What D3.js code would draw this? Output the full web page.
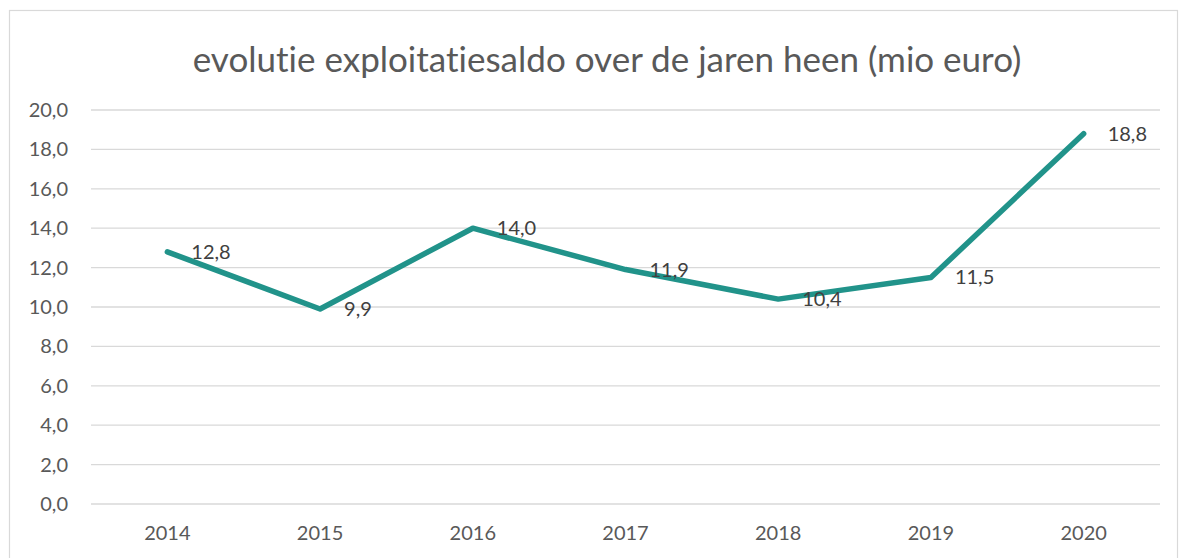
<!DOCTYPE html>
<html><head><meta charset="utf-8">
<script src="https://cdn.jsdelivr.net/npm/d3@7"></script>
<style>html,body{margin:0;padding:0;background:#fff;}svg{display:block;}text{font-variant-ligatures:none;font-feature-settings:"liga" 0,"clig" 0;}</style>
</head><body>
<script>
const title = "evolutie exploitatiesaldo over de jaren heen (mio euro)";
const years = ["2014","2015","2016","2017","2018","2019","2020"];
const values = [12.8, 9.9, 14.0, 11.9, 10.4, 11.5, 18.8];
const yTicks = [0,2,4,6,8,10,12,14,16,18,20];

(function(){
const W = 1180, H = 558;
const font = "Lato, 'Open Sans', sans-serif";
const svg = d3.select("body").append("svg").attr("width", W).attr("height", H);

// chart border
svg.append("rect").attr("x", 9.5).attr("y", 10.5).attr("width", 1168).attr("height", 600)
  .attr("fill", "#fff").attr("stroke", "#d9d9d9").attr("stroke-width", 1.2);

const pLeft = 91, pRight = 1160, pTop = 110, pBottom = 504;
const x = d3.scaleBand().domain(years).range([pLeft, pRight]);
const y = d3.scaleLinear().domain([0, 20]).range([pBottom, pTop]);
const fmt = v => d3.format(".1f")(v).replace(".", ",");

// title
const t = svg.append("text").attr("x", 607).attr("y", 72).attr("text-anchor", "middle")
  .attr("font-family", font).attr("font-size", 32).attr("fill", "#595959").text(title);
const tw = t.node().getComputedTextLength();
t.attr("font-size", 32 * 829 / tw);

// gridlines
svg.append("g").selectAll("line").data(yTicks).join("line")
  .attr("x1", pLeft).attr("x2", pRight)
  .attr("y1", d => y(d)).attr("y2", d => y(d))
  .attr("stroke", "#d9d9d9").attr("stroke-width", 1.3);

// y axis
const yAxis = svg.append("g").attr("transform", `translate(${pLeft},0)`)
  .call(d3.axisLeft(y).tickValues(yTicks).tickFormat(fmt).tickSize(0).tickPadding(23));
yAxis.select(".domain").remove();
yAxis.selectAll("text").attr("font-family", font).attr("font-size", 20).attr("fill", "#595959");

// x axis
const xAxis = svg.append("g").attr("transform", `translate(0,${pBottom})`)
  .call(d3.axisBottom(x).tickSize(0).tickPadding(22));
xAxis.select(".domain").remove();
xAxis.selectAll("text").attr("font-family", font).attr("font-size", 20).attr("fill", "#595959");

// line
const pts = years.map((yr, i) => ({yr, v: values[i]}));
const line = d3.line().x(d => x(d.yr) + x.bandwidth() / 2).y(d => y(d.v));
svg.append("path").datum(pts).attr("d", line).attr("fill", "none")
  .attr("stroke", "#21938a").attr("stroke-width", 5.5)
  .attr("stroke-linecap", "round").attr("stroke-linejoin", "round");

// labels
svg.append("g").selectAll("text").data(pts).join("text")
  .attr("x", d => x(d.yr) + x.bandwidth() / 2 + 24)
  .attr("y", d => y(d.v)).attr("dy", "0.35em")
  .attr("font-family", font).attr("font-size", 20).attr("fill", "#404040")
  .text(d => fmt(d.v));
})();
</script>
</body></html>
